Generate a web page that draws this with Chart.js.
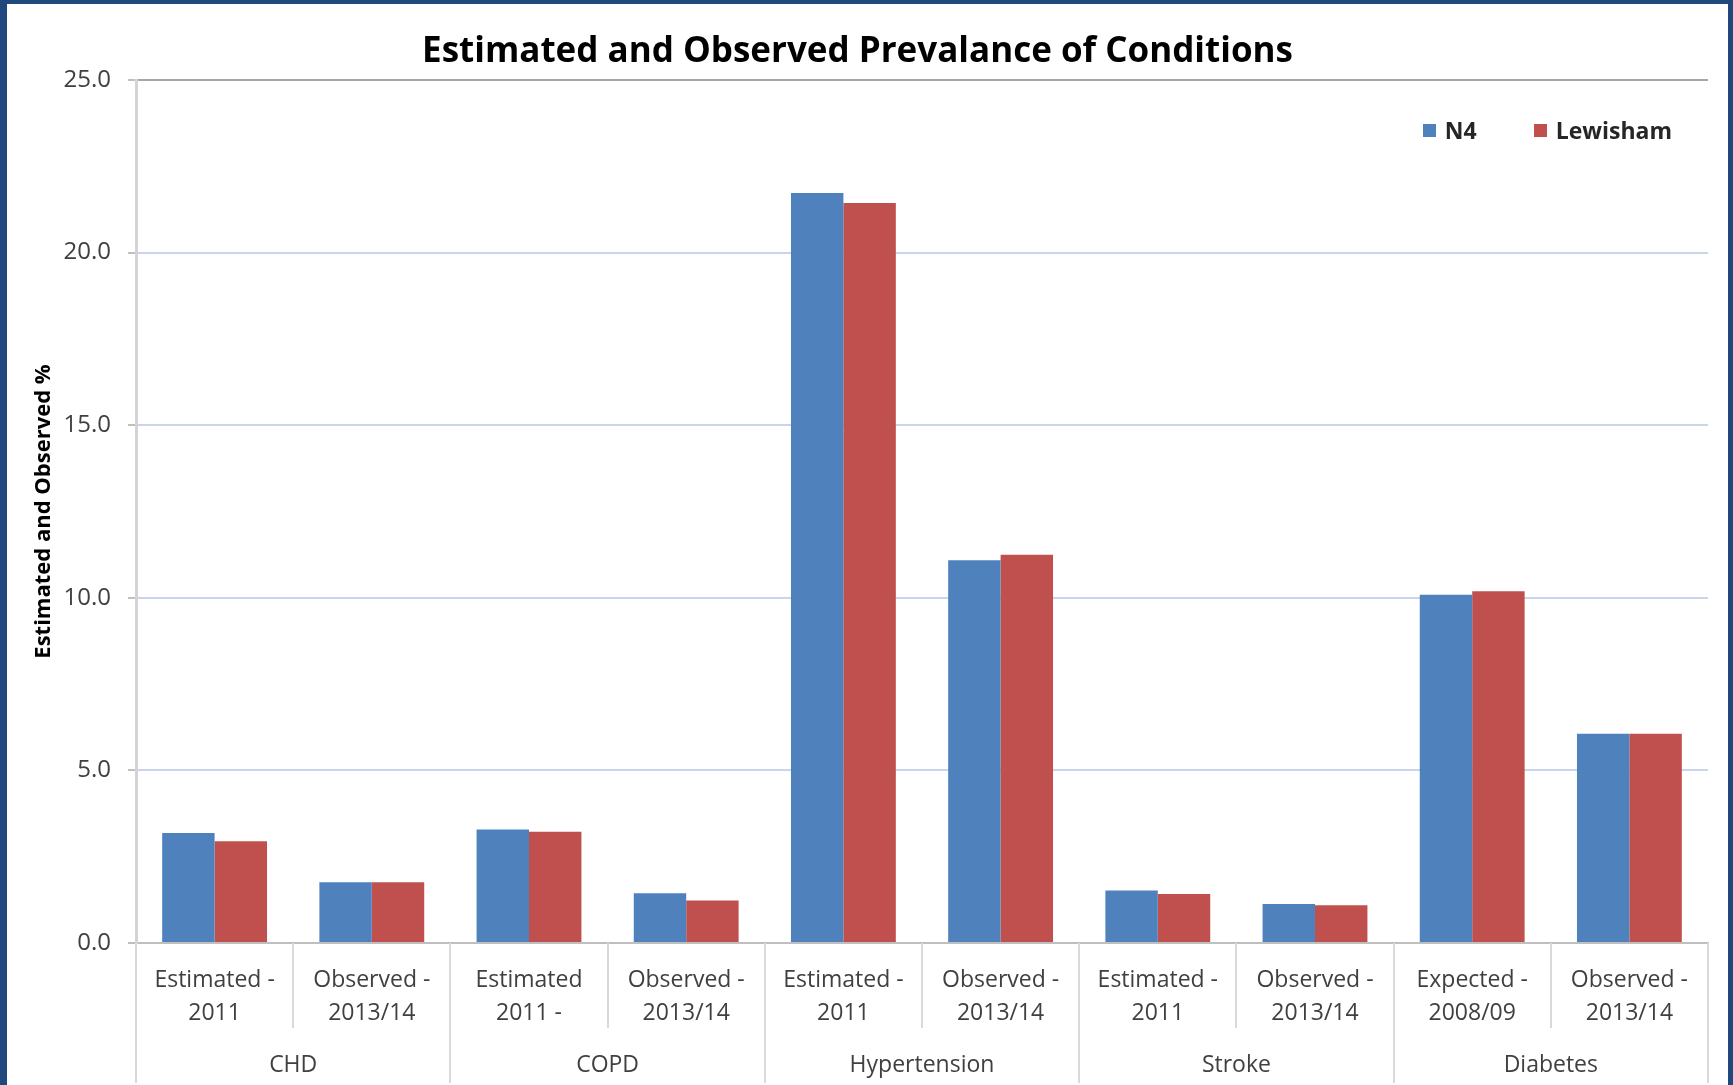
<!DOCTYPE html>
<html>
<head>
<meta charset="utf-8">
<title>Estimated and Observed Prevalance of Conditions</title>
<script src="https://cdn.jsdelivr.net/npm/chart.js@4.4.1/dist/chart.umd.min.js"></script>
<style>
  html, body { margin: 0; padding: 0; background: #fff; }
  #frame {
    position: absolute; left: 0; top: 0;
    width: 1733px; height: 1085px;
    box-sizing: border-box;
    border-left: 7px solid #1F497D;
    border-top: 4px solid #1F497D;
    border-right: 5px solid #1F497D;
    background: #fff;
  }
  #chartBox { position: relative; width: 100%; height: 100%; }
  #legend {
    position: absolute; display: flex; align-items: center;
    font: bold 23px "Open Sans", sans-serif; color: #262626;
  }
  #legend .item { display: flex; align-items: center; margin-left: 57px; }
  #legend .item:first-child { margin-left: 0; }
  #legend .swatch { width: 13px; height: 13px; margin-right: 9px; }
</style>
</head>
<body>
<div id="frame">
  <div id="chartBox">
    <canvas id="myChart"></canvas>
    <div id="legend"></div>
  </div>
</div>
<script>
// categories (two lines each) and the condition groups under them
var categories = [
  ['Estimated -', '2011'], ['Observed -', '2013/14'],
  ['Estimated', '2011 -'], ['Observed -', '2013/14'],
  ['Estimated -', '2011'], ['Observed -', '2013/14'],
  ['Estimated -', '2011'], ['Observed -', '2013/14'],
  ['Expected -', '2008/09'], ['Observed -', '2013/14']
];
var groups = ['CHD', 'COPD', 'Hypertension', 'Stroke', 'Diabetes'];

// prevalence values (%)
var n4Values = [3.19, 1.76, 3.29, 1.44, 21.73, 11.09, 1.52, 1.13, 10.09, 6.06];
var lewishamValues = [2.95, 1.76, 3.22, 1.23, 21.44, 11.25, 1.42, 1.09, 10.19, 6.06];

// y axis ticks
var yMin = 0, yMax = 25, yStep = 5;

var textFont = '"Open Sans", Lato, sans-serif';

// draws the separators between categories and groups below the x axis
var separatorPlugin = {
  id: 'separators',
  afterDraw: function(chart) {
    var x = chart.scales.x;
    var ctx = chart.ctx;
    var cw = x.getPixelForValue(1) - x.getPixelForValue(0);
    var start = x.getPixelForValue(0) - cw / 2;
    var top = chart.chartArea.bottom;
    ctx.save();
    ctx.strokeStyle = '#D9D9D9';
    ctx.lineWidth = 2;
    for (var i = 0; i <= categories.length; i++) {
      var px = Math.round(start + i * cw);
      var end = (i % 2 === 0) ? chart.height - 2 : x.bottom - 15;
      ctx.beginPath();
      ctx.moveTo(px, top);
      ctx.lineTo(px, end);
      ctx.stroke();
    }
    ctx.restore();
  }
};

function displayChart() {
  var ctx = document.getElementById('myChart').getContext('2d');

  var myChart = new Chart(ctx, {
    type: 'bar',
    data: {
      labels: categories,
      datasets: [{
        label: 'N4',
        data: n4Values,
        backgroundColor: '#4F81BD',
        borderWidth: 0
      }, {
        label: 'Lewisham',
        data: lewishamValues,
        backgroundColor: '#C0504D',
        borderWidth: 0
      }]
    },
    options: {
      responsive: true,
      maintainAspectRatio: false,
      animation: false,
      layout: { padding: { left: 0, right: 20, top: 0, bottom: 0 } },
      datasets: {
        bar: { categoryPercentage: 0.667, barPercentage: 1.0 }
      },
      plugins: {
        legend: { display: false },
        tooltip: { enabled: false },
        title: {
          display: true,
          text: 'Estimated and Observed Prevalance of Conditions',
          color: '#000',
          font: { family: textFont, size: 35, weight: 'bold', lineHeight: 1.2 },
          padding: { top: 27, bottom: 7 }
        }
      },
      scales: {
        x: {
          type: 'category',
          grid: { display: false, drawTicks: false },
          border: { display: true, color: '#BFBFBF', width: 2 },
          ticks: {
            color: '#404040',
            padding: 21,
            maxRotation: 0,
            autoSkip: false,
            font: { family: textFont, size: 23, lineHeight: 1.43 }
          },
          afterFit: function(scale) { scale.height = 100; }
        },
        x2: {
          type: 'category',
          position: 'bottom',
          labels: groups,
          offset: true,
          grid: { display: false, drawTicks: false },
          border: { display: false },
          ticks: {
            color: '#404040',
            padding: 9,
            maxRotation: 0,
            autoSkip: false,
            font: { family: textFont, size: 23, lineHeight: 1.2 }
          },
          afterFit: function(scale) { scale.height = 42; }
        },
        y: {
          min: yMin,
          max: yMax,
          ticks: {
            stepSize: yStep,
            color: '#404040',
            padding: 17,
            font: { family: textFont, size: 24 },
            callback: function(v) { return v.toFixed(1); }
          },
          grid: {
            color: function(c) { return c.tick && c.tick.value === yMax ? '#A6A6A6' : '#C9D5E8'; },
            lineWidth: 2,
            tickLength: 8,
            tickColor: '#BFBFBF'
          },
          border: { display: true, color: '#D4D4D4', width: 3 },
          title: {
            display: true,
            text: 'Estimated and Observed %',
            color: '#000',
            font: { family: textFont, size: 22, weight: 'bold', lineHeight: 1.2 },
            padding: { top: 24, bottom: 0 }
          },
          afterFit: function(scale) { scale.width = 129; }
        }
      }
    },
    plugins: [separatorPlugin]
  });

  // legend built from the datasets, placed inside the plot at top right
  var legend = document.getElementById('legend');
  myChart.data.datasets.forEach(function(ds) {
    var item = document.createElement('div');
    item.className = 'item';
    var sw = document.createElement('span');
    sw.className = 'swatch';
    sw.style.background = ds.backgroundColor;
    var txt = document.createElement('span');
    txt.textContent = ds.label;
    item.appendChild(sw);
    item.appendChild(txt);
    legend.appendChild(item);
  });
  var area = myChart.chartArea;
  legend.style.right = (myChart.width - area.right + 36) + 'px';
  legend.style.top = (area.top + 50 - legend.offsetHeight / 2) + 'px';
}

displayChart();
</script>
</body>
</html>
